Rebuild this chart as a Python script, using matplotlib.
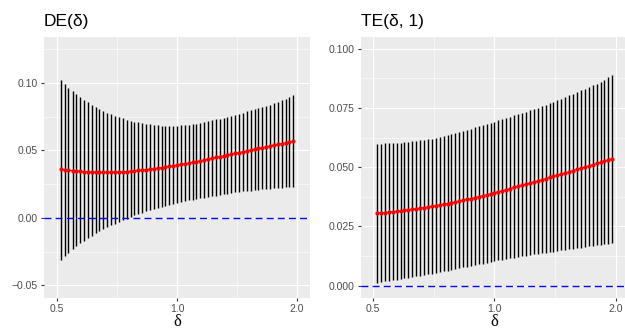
import matplotlib
matplotlib.use('Agg')
import matplotlib.pyplot as plt
from matplotlib.ticker import FixedLocator, NullFormatter

# delta grid (evenly spaced on the log axis)
delta = [0.511, 0.523, 0.534, 0.547, 0.559, 0.572, 0.585, 0.598, 0.611, 0.625,
         0.639, 0.654, 0.669, 0.684, 0.699, 0.715, 0.731, 0.748, 0.765, 0.782,
         0.800, 0.818, 0.836, 0.855, 0.875, 0.894, 0.915, 0.935, 0.957, 0.978,
         1.000, 1.023, 1.046, 1.070, 1.094, 1.119, 1.144, 1.170, 1.197, 1.224,
         1.251, 1.280, 1.309, 1.338, 1.369, 1.400, 1.431, 1.464, 1.497, 1.531,
         1.565, 1.601, 1.637, 1.674, 1.712, 1.751, 1.790, 1.831, 1.872, 1.915,
         1.958]

de_est = [0.0360, 0.0357, 0.0354, 0.0351, 0.0348, 0.0345, 0.0343, 0.0341, 0.0339, 0.0338,
          0.0337, 0.0337, 0.0337, 0.0338, 0.0339, 0.0340, 0.0342, 0.0344, 0.0346, 0.0348,
          0.0352, 0.0355, 0.0358, 0.0361, 0.0365, 0.0369, 0.0373, 0.0377, 0.0382, 0.0387,
          0.0392, 0.0397, 0.0402, 0.0407, 0.0413, 0.0418, 0.0424, 0.0430, 0.0436, 0.0441,
          0.0449, 0.0455, 0.0461, 0.0467, 0.0473, 0.0479, 0.0485, 0.0491, 0.0497, 0.0503,
          0.0509, 0.0515, 0.0521, 0.0527, 0.0533, 0.0539, 0.0545, 0.0551, 0.0557, 0.0563,
          0.0569]
de_lo = [-0.0311, -0.0283, -0.0257, -0.0233, -0.0210, -0.0189, -0.0169, -0.0150, -0.0132, -0.0115,
         -0.0099, -0.0084, -0.0069, -0.0055, -0.0042, -0.0029, -0.0017, -0.0004, 0.0008, 0.0019,
         0.0030, 0.0040, 0.0050, 0.0059, 0.0068, 0.0076, 0.0084, 0.0092, 0.0099, 0.0106,
         0.0112, 0.0118, 0.0124, 0.0130, 0.0135, 0.0141, 0.0146, 0.0151, 0.0156, 0.0161,
         0.0166, 0.0171, 0.0176, 0.0180, 0.0185, 0.0189, 0.0193, 0.0197, 0.0200, 0.0203,
         0.0206, 0.0209, 0.0212, 0.0215, 0.0217, 0.0220, 0.0222, 0.0225, 0.0227, 0.0229,
         0.0232]
de_hi = [0.1022, 0.0990, 0.0963, 0.0938, 0.0915, 0.0894, 0.0874, 0.0856, 0.0839, 0.0823,
         0.0808, 0.0794, 0.0781, 0.0769, 0.0758, 0.0748, 0.0738, 0.0729, 0.0721, 0.0714,
         0.0708, 0.0702, 0.0697, 0.0693, 0.0690, 0.0687, 0.0685, 0.0684, 0.0684, 0.0684,
         0.0685, 0.0687, 0.0689, 0.0692, 0.0696, 0.0700, 0.0705, 0.0711, 0.0717, 0.0723,
         0.0730, 0.0737, 0.0744, 0.0751, 0.0758, 0.0766, 0.0773, 0.0781, 0.0789, 0.0797,
         0.0805, 0.0814, 0.0822, 0.0831, 0.0840, 0.0849, 0.0860, 0.0872, 0.0884, 0.0897,
         0.0911]

te_est = [0.0307, 0.0308, 0.0309, 0.0311, 0.0312, 0.0314, 0.0316, 0.0318, 0.0320, 0.0322,
          0.0325, 0.0327, 0.0330, 0.0332, 0.0335, 0.0338, 0.0341, 0.0344, 0.0347, 0.0350,
          0.0354, 0.0357, 0.0361, 0.0364, 0.0368, 0.0372, 0.0376, 0.0380, 0.0384, 0.0388,
          0.0393, 0.0397, 0.0401, 0.0406, 0.0410, 0.0415, 0.0419, 0.0424, 0.0428, 0.0433,
          0.0438, 0.0442, 0.0447, 0.0452, 0.0457, 0.0461, 0.0466, 0.0471, 0.0476, 0.0481,
          0.0486, 0.0491, 0.0496, 0.0501, 0.0506, 0.0511, 0.0516, 0.0521, 0.0526, 0.0532,
          0.0537]
te_lo = [0.0013, 0.0016, 0.0018, 0.0021, 0.0023, 0.0026, 0.0028, 0.0031, 0.0033, 0.0036,
         0.0039, 0.0042, 0.0045, 0.0048, 0.0051, 0.0054, 0.0058, 0.0061, 0.0064, 0.0067,
         0.0070, 0.0073, 0.0077, 0.0080, 0.0083, 0.0086, 0.0090, 0.0093, 0.0097, 0.0100,
         0.0104, 0.0107, 0.0110, 0.0113, 0.0116, 0.0119, 0.0122, 0.0124, 0.0127, 0.0129,
         0.0132, 0.0134, 0.0137, 0.0139, 0.0142, 0.0144, 0.0147, 0.0149, 0.0152, 0.0154,
         0.0157, 0.0159, 0.0161, 0.0163, 0.0166, 0.0168, 0.0170, 0.0172, 0.0175, 0.0177,
         0.0180]
te_hi = [0.0600, 0.0600, 0.0601, 0.0601, 0.0602, 0.0603, 0.0604, 0.0605, 0.0607, 0.0609,
         0.0611, 0.0613, 0.0616, 0.0618, 0.0621, 0.0624, 0.0628, 0.0632, 0.0636, 0.0640,
         0.0644, 0.0649, 0.0653, 0.0658, 0.0663, 0.0668, 0.0673, 0.0678, 0.0683, 0.0688,
         0.0693, 0.0698, 0.0703, 0.0708, 0.0714, 0.0719, 0.0724, 0.0730, 0.0735, 0.0741,
         0.0746, 0.0752, 0.0758, 0.0764, 0.0770, 0.0776, 0.0783, 0.0790, 0.0797, 0.0804,
         0.0811, 0.0818, 0.0825, 0.0832, 0.0839, 0.0846, 0.0853, 0.0861, 0.0869, 0.0879,
         0.0890]

x_ticks = [0.5, 1.0, 2.0]
x_tick_labels = ['0.5', '1.0', '2.0']
de_yticks = [-0.05, 0.0, 0.05, 0.10]
de_ytick_labels = ['\u22120.05', '0.00', '0.05', '0.10']
te_yticks = [0.0, 0.025, 0.05, 0.075, 0.10]
te_ytick_labels = ['0.000', '0.025', '0.050', '0.075', '0.100']


def draw_panel(ax, est, lo, hi, title, yticks, ylabels, yminor, ylim, xlim):
    ax.set_facecolor('#EBEBEB')
    ax.vlines(delta, lo, hi, color='black', lw=1.0, zorder=3)
    ax.axhline(0, color='blue', lw=1.0, dashes=(5, 3), zorder=4)
    ax.plot(delta, est, color='red', lw=0.8, marker='o', ms=2.0, zorder=5)

    ax.set_xscale('log')
    ax.set_xlim(*xlim)
    ax.set_ylim(*ylim)
    ax.set_xticks(x_ticks)
    ax.set_xticklabels(x_tick_labels)
    ax.xaxis.set_minor_locator(FixedLocator([0.7071, 1.4142]))
    ax.xaxis.set_minor_formatter(NullFormatter())
    ax.set_yticks(yticks)
    ax.set_yticklabels(ylabels)
    ax.yaxis.set_minor_locator(FixedLocator(yminor))

    for s in ax.spines.values():
        s.set_visible(False)
    ax.grid(which='major', color='white', lw=0.8)
    ax.grid(which='minor', color='white', lw=0.4)
    ax.set_axisbelow(True)
    ax.tick_params(which='major', length=2.5, width=0.8, color='#333333',
                   labelcolor='#4D4D4D', labelsize=7.5, pad=2)
    ax.tick_params(which='minor', length=0)

    ax.set_title(title, loc='left', fontsize=12.5, pad=8, family='Liberation Sans')
    ax.set_xlabel('\u03b4', family='Liberation Serif', fontsize=12, labelpad=0)


plt.rcParams['font.family'] = ['Liberation Sans', 'DejaVu Sans']
fig = plt.figure(figsize=(6.25, 3.31), dpi=100)
ax1 = fig.add_axes([44 / 625, 33 / 331, 266 / 625, 261 / 331])
ax2 = fig.add_axes([361 / 625, 33 / 331, 267 / 625, 261 / 331])

draw_panel(ax1, de_est, de_lo, de_hi, 'DE(\u03b4)', de_yticks, de_ytick_labels,
           [-0.025, 0.025, 0.075, 0.125], (-0.0593, 0.1341), (0.4638, 2.156))
draw_panel(ax2, te_est, te_lo, te_hi, 'TE(\u03b4, 1)', te_yticks, te_ytick_labels,
           [0.0125, 0.0375, 0.0625, 0.0875], (-0.0052, 0.105), (0.4669, 2.142))

fig.savefig('out.png', dpi=100)
